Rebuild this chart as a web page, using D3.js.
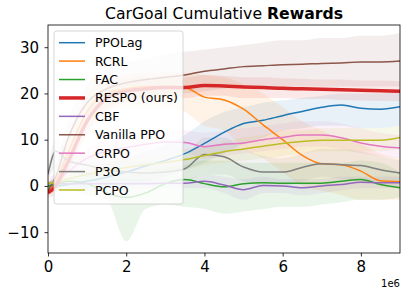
<!DOCTYPE html>
<html>
<head>
<meta charset="utf-8">
<script src="https://cdn.jsdelivr.net/npm/d3@7"></script>
<style>
  body { margin: 0; background: #fff; }
  svg { display: block; font-family: 'DejaVu Sans', sans-serif; }
</style>
</head>
<body>
<svg id="chart" width="407" height="297"></svg>
<script>
// environment steps (x 1e6)
const steps = [0, 0.2, 0.5, 1, 1.5, 2, 2.5, 3, 3.5, 4, 4.5, 5, 5.5, 6, 6.5, 7, 7.5, 8, 8.5, 9];

const names = ['PPOLag', 'RCRL', 'FAC', 'RESPO (ours)', 'CBF', 'Vanilla PPO', 'CRPO', 'P3O', 'PCPO'];
const colors = ['#1f77b4', '#ff7f0e', '#2ca02c', '#d62728', '#9467bd', '#8c564b', '#e377c2', '#7f7f7f', '#bcbd22'];

// mean curves
const ppolag = [0, 0, 0.3, 1, 1.9, 3, 4.3, 5.5, 7, 9.2, 11.6, 13.5, 14.2, 15.2, 16.1, 17, 17.5, 16.8, 16.6, 17.1];
const rcrl = [-1, 1, 7, 16, 20, 21, 21.5, 21.5, 21.3, 19.2, 18.6, 16.6, 13.2, 10, 6.6, 4.8, 4.6, 3.2, 1.1, 0.9];
const fac = [0, 0.3, 1, 0.5, -1.5, -2.5, -1.5, 0.5, 1.4, 0.5, -0.2, 0.5, 0.7, 0.6, 0.6, 0.6, 1.0, 1.4, 0.3, -0.4];
const respo = [-1.5, 0, 5, 14, 19, 20.5, 21, 21.3, 21.3, 21.7, 21.6, 21.4, 21.3, 21.1, 21, 20.9, 20.8, 20.7, 20.6, 20.5];
const cbf = [0.5, 0.5, 0.5, 0.5, 0.5, 0.5, 0.5, 0.6, 0.6, 1.0, 0.2, -0.8, 0.1, 0, -0.4, 0, 0.3, 0.8, 0.7, 0.7];
const vanilla = [-1, 2, 10, 18, 21, 22.3, 23, 23.5, 24, 24.8, 25.3, 25.8, 26, 26.2, 26.3, 26.5, 26.6, 26.8, 26.8, 27];
const crpo = [0.5, 1, 3, 6, 7.5, 8.3, 9, 9.5, 9.4, 8.5, 9, 9.3, 10, 10.5, 11, 11, 10.4, 9.3, 8.6, 8.2];
const p3o = [2.5, 7.5, 5.5, 4.5, 3.5, 3, 2.8, 3, 3.7, 6.8, 6.3, 4.1, 3, 3, 4, 4.8, 4.6, 4.4, 3.5, 2.8];
const pcpo = [0.5, 0.8, 1.5, 2.5, 3.3, 4, 4.6, 5.1, 5.7, 6.6, 7.4, 8, 8.6, 9.2, 9.6, 9.9, 9.9, 9.9, 9.9, 10.5];

// shaded bands (lower / upper)
const ppolagLo = [-1, -1, -1, -1, -0.5, 0, 1, 2, 3.5, 5, 7, 9, 10.5, 12, 12.5, 13, 13, 12.5, 12.5, 13];
const ppolagHi = [1, 1, 1.5, 3, 4.5, 6, 7.5, 9, 11, 14, 16, 17, 18, 18.5, 19, 19.5, 20, 20, 20, 20.5];
const rcrlLo = [-2, -1, 3, 12, 16, 17, 17, 17, 16, 13, 12, 8, 6, 3, 0, -1, -2, -3, -3, -3];
const rcrlHi = [0, 2, 10, 20, 23, 24, 24.5, 24.5, 24.5, 24, 23.5, 22, 20, 17, 14, 12, 10, 9, 7, 6];
const facLo = [-1, -1, -1, -2, -3, -12, -5, -4, -4.5, -5, -6, -5.5, -5, -4.5, -4.5, -4, -3.5, -3, -3, -2.5];
const facHi = [1, 1.5, 2.5, 3, 2, 2, 3, 4, 4.5, 5.5, 5.5, 5, 5, 5, 5, 5, 5, 5.5, 5, 3];
const respoLo = [-2.5, -2, 3, 11, 16, 18, 18.5, 19, 19, 19.5, 19.5, 19, 19, 19, 18.8, 18.8, 18.6, 18.5, 18.4, 18.3];
const respoHi = [-0.5, 2, 7, 17, 21.5, 23, 23.5, 23.5, 23.5, 24, 23.8, 23.5, 23.5, 23.3, 23.2, 23, 23, 22.8, 22.8, 22.6];
const cbfLo = [0, 0, 0, -0.5, -0.5, -0.5, -0.5, -0.5, -0.5, -0.5, -1.5, -3, -1.5, -1.5, -2, -1.5, -1, -0.5, -0.5, -0.5];
const cbfHi = [1, 1, 1, 1.5, 1.5, 1.5, 1.5, 1.5, 1.5, 2.5, 2, 1.5, 2, 1.5, 1.5, 1.5, 2, 2, 2, 2];
const vanillaLo = [-2, 0, 6, 14, 17, 18.5, 19, 19.5, 20, 20.5, 21, 21.5, 21.5, 21.5, 21.5, 21.5, 21.5, 21.5, 21.5, 21.5];
const vanillaHi = [0, 4, 14, 22, 25, 26.5, 27.5, 28.5, 29, 29.5, 30, 30.5, 31, 31.5, 31.5, 32, 32, 32.5, 32.5, 33];
const crpoLo = [0, 0, 1.5, 3, 4.5, 5.5, 6.5, 7, 7, 6, 6.5, 7, 7.5, 8, 8.5, 8.5, 8, 7, 6.5, 6];
const crpoHi = [1.5, 2.5, 4.5, 8, 10, 11, 11.5, 12, 12, 11.5, 12, 12.5, 13, 13.5, 14, 14, 13.5, 12.5, 11.5, 11];
const p3oLo = [1, 4, 3, 2, 1.5, 1, 0.5, 0.5, 1, 2.5, 2.5, 1, 0, 0, 1, 2, 1.5, 1, 0.5, 0];
const p3oHi = [4, 10, 8, 7, 6, 5.5, 5.5, 5.5, 6.5, 10.5, 10.5, 8, 6.5, 6, 7, 8, 8, 7.5, 6.5, 5.5];
const pcpoLo = [0, 0, 0.5, 1, 1.5, 2, 2.5, 3, 3.5, 4.5, 5, 5.5, 6, 6.5, 7, 7.5, 7.5, 7.5, 7.5, 8];
const pcpoHi = [1, 1.5, 2.5, 4, 5, 6, 6.5, 7, 8, 8.5, 9.5, 10.5, 11, 12, 12, 12.5, 12.5, 12.5, 12.5, 13];

const xTicks = [0, 2, 4, 6, 8];
const yTicks = [-10, 0, 10, 20, 30];

const series = [
  { mean: ppolag, lo: ppolagLo, hi: ppolagHi },
  { mean: rcrl, lo: rcrlLo, hi: rcrlHi },
  { mean: fac, lo: facLo, hi: facHi },
  { mean: respo, lo: respoLo, hi: respoHi },
  { mean: cbf, lo: cbfLo, hi: cbfHi },
  { mean: vanilla, lo: vanillaLo, hi: vanillaHi },
  { mean: crpo, lo: crpoLo, hi: crpoHi },
  { mean: p3o, lo: p3oLo, hi: p3oHi },
  { mean: pcpo, lo: pcpoLo, hi: pcpoHi }
].map((s, i) => ({ ...s, name: names[i], color: colors[i], width: i === 3 ? 3.5 : 1.5 }));

const svg = d3.select('#chart');
const plot = { left: 48, right: 400, top: 25, bottom: 253 };

const x = d3.scaleLinear().domain([0, 9]).range([plot.left, plot.right]);
const y = d3.scaleLinear().domain([-14.5, 34.8]).range([plot.bottom, plot.top]);

svg.append('defs').append('clipPath').attr('id', 'clip')
  .append('rect')
  .attr('x', plot.left).attr('y', plot.top)
  .attr('width', plot.right - plot.left).attr('height', plot.bottom - plot.top);

const body = svg.append('g').attr('clip-path', 'url(#clip)');

// bands first
const area = (s) => d3.area()
  .x((d, i) => x(steps[i]))
  .y0((d, i) => y(s.lo[i]))
  .y1((d, i) => y(s.hi[i]))
  .curve(d3.curveMonotoneX);

series.forEach(s => {
  body.append('path')
    .datum(s.mean)
    .attr('d', area(s))
    .attr('fill', s.color)
    .attr('fill-opacity', 0.1);
});

const line = d3.line()
  .x((d, i) => x(steps[i]))
  .y(d => y(d))
  .curve(d3.curveMonotoneX);

// RESPO drawn last so it sits on top
const drawOrder = [0, 1, 2, 4, 5, 6, 7, 8, 3];
drawOrder.forEach(k => {
  const s = series[k];
  body.append('path')
    .datum(s.mean)
    .attr('d', line)
    .attr('fill', 'none')
    .attr('stroke', s.color)
    .attr('stroke-width', s.width)
    .attr('stroke-linejoin', 'round');
});

// axes
const xAxis = d3.axisBottom(x).tickValues(xTicks).tickSize(3.5).tickPadding(5).tickFormat(d3.format('d'));
const yAxis = d3.axisLeft(y).tickValues(yTicks).tickSize(3.5).tickPadding(5.5)
  .tickFormat(d => d < 0 ? '\u2212' + Math.abs(d) : d);

const gx = svg.append('g').attr('transform', `translate(0,${plot.bottom})`).call(xAxis);
const gy = svg.append('g').attr('transform', `translate(${plot.left},0)`).call(yAxis);
[gx, gy].forEach(g => {
  g.select('.domain').remove();
  g.selectAll('line').attr('stroke', '#000').attr('stroke-width', 0.8);
  g.selectAll('text').attr('fill', '#000').attr('font-size', 15).attr('font-family', 'DejaVu Sans');
});

svg.append('rect')
  .attr('x', plot.left).attr('y', plot.top)
  .attr('width', plot.right - plot.left).attr('height', plot.bottom - plot.top)
  .attr('fill', 'none').attr('stroke', '#000').attr('stroke-width', 0.8);

svg.append('text')
  .attr('x', plot.right).attr('y', 287)
  .attr('text-anchor', 'end')
  .attr('font-size', 10)
  .text('1e6');

// title
const title = svg.append('text')
  .attr('x', 105).attr('y', 18.5)
  .attr('font-size', 15)
  .attr('textLength', 238)
  .attr('lengthAdjust', 'spacingAndGlyphs');
title.append('tspan').text('CarGoal Cumulative ');
title.append('tspan').attr('font-weight', 'bold').text('Rewards');

// legend
const legend = svg.append('g');
legend.append('rect')
  .attr('x', 54).attr('y', 31)
  .attr('width', 129).attr('height', 173)
  .attr('rx', 2.5)
  .attr('fill', '#fff').attr('fill-opacity', 0.8)
  .attr('stroke', '#ccc').attr('stroke-width', 0.8);

const rowY = d3.scaleLinear().domain([0, series.length - 1]).range([42.7, 190]);
series.forEach((s, i) => {
  legend.append('line')
    .attr('x1', 59).attr('x2', 85)
    .attr('y1', rowY(i)).attr('y2', rowY(i))
    .attr('stroke', s.color)
    .attr('stroke-width', s.width);
  legend.append('text')
    .attr('x', 95).attr('y', rowY(i))
    .attr('dy', '0.36em')
    .attr('font-size', 12.5)
    .text(s.name);
});
</script>
</body>
</html>
